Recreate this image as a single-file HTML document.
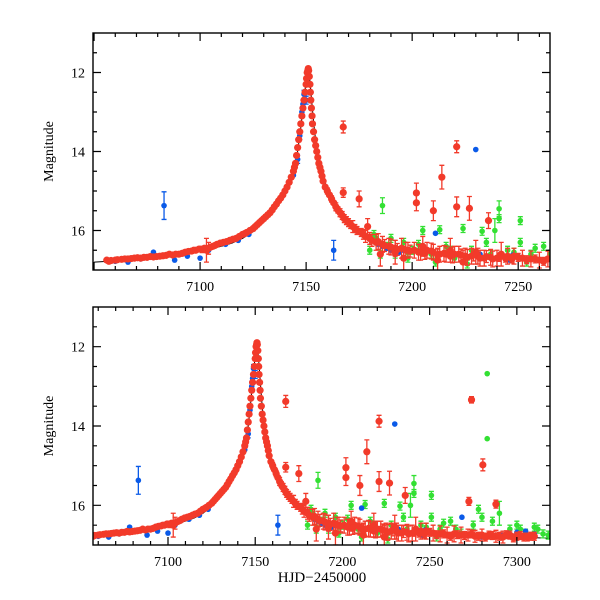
<!DOCTYPE html>
<html><head><meta charset="utf-8">
<style>
html,body{margin:0;padding:0;background:#fff;}
svg{display:block;font-family:"Liberation Serif",serif;}
</style></head>
<body>
<svg id="chart" width="600" height="600" viewBox="0 0 600 600">
<g id="p1"></g>
<g id="p2"></g>
<text x="322" y="582" text-anchor="middle" font-size="15">HJD−2450000</text>
</svg>
<script>
// model curve
const modelT=[7050,7060,7070,7080,7090,7100,7110,7115,7120,7125,7130,7135,7138,7141,7143,7145,7146,7147,7148,7149,7150,7150.5,7151,7151.5,7152,7153,7154,7155,7157,7160,7163,7166,7170,7175,7180,7190,7200,7210,7220,7240,7260,7280,7300,7320];
const modelM=[16.8,16.77,16.73,16.68,16.62,16.53,16.4,16.32,16.2,16.03,15.75,15.42,15.18,14.9,14.65,14.3,14.0,13.6,13.15,12.7,12.2,12.0,11.95,12.05,12.35,12.95,13.5,13.9,14.45,14.95,15.3,15.55,15.8,16.02,16.18,16.37,16.48,16.55,16.6,16.68,16.72,16.76,16.8,16.83];
// red observations
const redT=[7056,7058,7060,7063,7066,7069,7072,7075,7078,7081,7084,7087,7090,7093,7096,7098,7101,7103,7104,7106,7108,7111,7114,7117,7120,7122,7125,7127,7129,7131,7133,7135,7137,7139,7141,7143,7145,7146,7147,7148,7149,7150,7150.5,7151,7151.5,7152,7152.5,7153,7154,7155,7156,7157,7158,7160,7162,7164,7166,7167.5,7167.5,7168,7170,7172,7174,7175,7176,7178,7179,7180,7183,7186,7189,7192,7195,7198,7201,7202,7202,7204,7207,7210,7210,7213,7214,7216,7219,7221,7221,7222,7225,7227,7228,7231,7234,7236,7237,7240,7245,7248,7252,7256,7260,7264,7268,7272,7272.5,7274,7276,7280,7280.5,7284,7288,7288,7292,7296,7300,7304,7308,7185,7192,7196,7205,7212,7218,7224,7230,7242,
7057,7061,7064.5,7067.5,7070.5,7073.5,7076.5,7079.5,7082.5,7085.5,7088.5,7091.5,7094.5,7097,7099.5,7102,7105,7107,7109.5,7112.5,7115.5,7118.5,7121,7123.5,7126,7128,7130,7132,7134,7136,7138,7140,7142,7144,7144.5,7145.5,7146.5,7147.5,7148.5,7149.5,7150.2,7150.8,7151.2,7151.8,7152.2,7152.8,7153.5,7154.5,7155.5,7156.5,7157.5,7159,7161,7163,7165,7167,7169,7171,7173,7177,7181,7184,7187,7190,7193,7197,7199,7203,7206,7209,7212,7215,7218,7220,7223,7226,7229,7232,7235,7238,7241,7244,7247,7250,7254,7258,7262,7266,7270,7274,7278,7282,7286,7290,7294,7298,7302,7306,7310];
const redM=[16.75,16.76,16.75,16.73,16.72,16.7,16.7,16.68,16.67,16.65,16.63,16.62,16.6,16.55,16.52,16.5,16.48,16.5,16.45,16.4,16.35,16.3,16.25,16.2,16.1,16.05,15.95,15.85,15.75,15.65,15.55,15.4,15.25,15.1,14.9,14.65,14.3,13.9,13.5,13.1,12.7,12.3,12.0,11.9,12.1,12.5,12.9,13.3,13.7,14.0,14.3,14.5,14.75,15.0,15.2,15.4,15.55,13.38,15.04,15.7,15.8,15.9,16.0,15.2,16.05,16.15,15.9,16.2,16.3,16.35,16.4,16.45,16.45,16.5,16.5,15.05,15.3,16.55,16.5,16.55,15.5,16.6,14.65,16.6,16.62,13.88,15.4,16.6,16.65,15.44,16.65,16.65,16.7,15.75,16.68,16.7,16.65,16.65,16.7,16.72,16.75,16.72,16.75,16.75,15.9,13.34,16.78,16.75,14.98,16.75,16.78,15.97,16.8,16.75,16.78,16.8,16.78,16.6,16.55,16.7,16.4,16.75,16.5,16.8,16.55,16.6,
16.78,16.74,16.72,16.71,16.69,16.68,16.66,16.66,16.64,16.6,16.6,16.58,16.53,16.5,16.47,16.45,16.42,16.38,16.32,16.28,16.22,16.15,16.08,16.0,15.9,15.8,15.7,15.6,15.48,15.33,15.18,15.0,14.78,14.5,14.4,14.1,13.7,13.3,12.9,12.5,12.15,11.95,11.95,12.3,12.7,13.1,13.5,13.85,14.15,14.4,14.62,14.9,15.1,15.3,15.48,15.62,15.75,15.85,15.95,16.1,16.25,16.28,16.38,16.42,16.48,16.5,16.52,16.55,16.58,16.52,16.62,16.58,16.65,16.6,16.62,16.68,16.62,16.7,16.66,16.72,16.68,16.7,16.72,16.68,16.74,16.72,16.78,16.74,16.76,16.72,16.78,16.8,16.76,16.78,16.74,16.82,16.76,16.8,16.78];
const redE=[0.03,0.03,0.03,0.03,0.03,0.03,0.03,0.03,0.03,0.03,0.05,0.05,0.05,0.05,0.05,0.05,0.08,0.3,0.15,0.05,0.05,0.05,0.05,0.05,0.05,0.05,0.05,0.05,0.05,0.05,0.05,0.05,0.05,0.05,0.05,0.05,0.05,0.05,0.05,0.05,0.05,0.05,0.05,0.05,0.05,0.05,0.05,0.05,0.05,0.05,0.05,0.05,0.05,0.08,0.08,0.1,0.1,0.15,0.12,0.1,0.1,0.15,0.1,0.2,0.1,0.15,0.2,0.15,0.2,0.2,0.2,0.2,0.25,0.2,0.2,0.25,0.2,0.2,0.2,0.2,0.25,0.2,0.3,0.2,0.2,0.15,0.25,0.2,0.2,0.3,0.2,0.2,0.2,0.2,0.2,0.2,0.2,0.2,0.2,0.2,0.2,0.2,0.2,0.15,0.1,0.08,0.15,0.15,0.15,0.1,0.15,0.1,0.15,0.1,0.1,0.1,0.1,0.3,0.3,0.3,0.25,0.3,0.3,0.3,0.3,0.3,
0.03,0.03,0.03,0.03,0.03,0.03,0.03,0.03,0.03,0.03,0.03,0.03,0.03,0.03,0.03,0.03,0.03,0.03,0.03,0.03,0.03,0.03,0.03,0.03,0.03,0.03,0.03,0.03,0.03,0.03,0.03,0.03,0.03,0.03,0.03,0.03,0.03,0.03,0.03,0.03,0.03,0.03,0.03,0.03,0.03,0.03,0.03,0.03,0.03,0.03,0.03,0.05,0.05,0.05,0.08,0.1,0.1,0.1,0.1,0.12,0.15,0.2,0.15,0.2,0.15,0.2,0.15,0.2,0.15,0.2,0.15,0.2,0.15,0.2,0.15,0.2,0.15,0.2,0.15,0.2,0.1,0.1,0.1,0.1,0.1,0.1,0.1,0.1,0.1,0.1,0.1,0.1,0.1,0.1,0.1,0.1,0.1,0.1,0.1];
// blue observations
const blueT=[7060,7066,7072,7078,7083,7088,7094,7100,7104,7112,7118,7123,7140,7144,7146,7147,7148,7148.5,7149,7150,7163,7184,7188,7192,7196,7211,7230,7232,7240,7243,7246,7250,7268.5,7280,7295,7305,7310,7186,7190,7194,7241.5,7244.5,7247.5,7252,7292,7300];
const blueM=[16.78,16.8,16.72,16.55,15.37,16.75,16.65,16.7,16.5,16.35,16.25,16.1,15.0,14.6,14.2,13.6,13.0,12.8,12.55,12.7,16.5,16.35,16.45,16.6,16.5,16.07,13.95,16.6,16.7,16.65,16.75,16.65,16.3,16.8,16.7,16.65,16.72,16.4,16.5,16.55,16.6,16.72,16.62,16.7,16.75,16.68];
const blueE=[0.05,0.05,0.05,0.05,0.35,0.05,0.05,0.05,0.05,0.05,0.05,0.05,0.05,0.05,0.1,0.1,0.1,0.1,0.1,0.1,0.25,0.05,0.05,0.05,0.05,0.05,0.05,0.05,0.05,0.05,0.05,0.05,0.05,0.05,0.05,0.05,0.05,0.05,0.05,0.05,0.05,0.05,0.05,0.05,0.05,0.05];
// green observations
const greenT=[7180,7183,7186,7188,7192,7196,7200,7205,7209,7213,7216,7220,7224,7228,7233,7237,7241,7241,7245,7251,7251,7256,7262,7268,7275,7280,7283,7283,7286,7290,7296,7300,7305,7312,7318,7182,7185,7190,7198,7203,7211,7218,7226,7235,7239,7248,7254,7258,7265,7278,7302,7310,7315];
const greenM=[16.5,16.2,15.37,16.4,16.6,16.3,16.5,16.0,16.6,15.98,16.4,16.7,15.95,16.5,16.02,16.6,15.45,15.7,16.5,15.75,16.3,16.6,16.4,16.7,16.5,16.3,12.68,14.32,16.4,16.2,16.6,16.5,16.7,16.6,16.75,16.1,16.6,16.2,16.7,16.35,16.8,16.5,16.85,16.3,16.0,16.55,16.8,16.45,16.6,16.1,16.6,16.55,16.72];
const greenE=[0.1,0.1,0.2,0.1,0.1,0.1,0.1,0.1,0.1,0.1,0.1,0.1,0.1,0.1,0.1,0.1,0.2,0.1,0.1,0.1,0.1,0.1,0.1,0.1,0.1,0.1,0.05,0.05,0.1,0.3,0.1,0.1,0.1,0.1,0.1,0.1,0.1,0.1,0.1,0.1,0.1,0.1,0.1,0.1,0.3,0.1,0.1,0.1,0.1,0.1,0.1,0.1,0.1];
const yTickLabels=["12","14","16"];

const NS="http://www.w3.org/2000/svg";
function mk(tag,attrs,parent){const e=document.createElementNS(NS,tag);for(const k in attrs)e.setAttribute(k,attrs[k]);parent.appendChild(e);return e;}

function panel(g,L,R,T,B,t0,t1,xlabels,cid){
  const xs=t=>L+(t-t0)/(t1-t0)*(R-L);
  const ys=m=>T+(m-11)/(17-11)*(B-T);
  const defs=mk('defs',{},g);
  const cp=mk('clipPath',{id:cid},defs);
  mk('rect',{x:L,y:T,width:R-L,height:B-T},cp);
  const dg=mk('g',{'clip-path':'url(#'+cid+')'},g);
  
  
  let d='';
  modelT.forEach((t,i)=>{d+=(i?'L':'M')+xs(t).toFixed(1)+' '+ys(modelM[i]).toFixed(1);});
  const ml=mk('path',{d:d,fill:'none',stroke:'#000','stroke-width':1},dg);
  
  
  function series(T_,M_,E_,col,name,r){
    const sg=mk('g',{fill:col,stroke:col},dg);
    
    
    T_.forEach((t,i)=>{
      const x=xs(t),y=ys(M_[i]),e=E_[i]*(B-T)/6;
      if(e>3){mk('path',{d:`M${x} ${y-e}V${y+e}M${x-2.5} ${y-e}h5M${x-2.5} ${y+e}h5`,fill:'none','stroke-width':1.3},sg);}
      const c=mk('circle',{cx:x,cy:y,r:r,stroke:'none'},sg);
      
      
    });
  }
  series(greenT,greenM,greenE,'#33e033','green-series',2.8);
  series(blueT,blueM,blueE,'#0a5ae8','blue-series',2.8);
  series(redT,redM,redE,'#f23a2a','red-series',3.6);
  const fr=mk('rect',{x:L,y:T,width:R-L,height:B-T,fill:'none',stroke:'#000','stroke-width':1.4},g);
  
  
  let td='';
  for(let t=Math.ceil(t0/10)*10;t<=t1;t+=10){const x=xs(t),len=(t%50===0)?8:4;td+=`M${x} ${B}v${-len}M${x} ${T}v${len}`;}
  for(let m=11.5;m<17;m+=0.5){const y=ys(m),len=(m%2===0)?8:4;td+=`M${L} ${y}h${len}M${R} ${y}h${-len}`;}
  const tk=mk('path',{d:td,stroke:'#000','stroke-width':1.2,fill:'none'},g);
  
  
  xlabels.forEach(v=>{
    const tx=mk('text',{x:xs(v),y:B+21,'text-anchor':'middle','font-size':14},g);
    tx.textContent=String(v);
    
    
  });
  yTickLabels.forEach(s=>{
    const tx=mk('text',{x:L-8,y:ys(+s)+5,'text-anchor':'end','font-size':14},g);
    tx.textContent=s;
    
    
  });
  const yl=mk('text',{x:0,y:0,'text-anchor':'middle','font-size':14,transform:`translate(53 ${(T+B)/2}) rotate(-90)`},g);
  yl.textContent='Magnitude';
  
  
}
panel(document.getElementById('p1'),93,550,33,270,7049.5,7265,[7100,7150,7200,7250],'c1');
panel(document.getElementById('p2'),93,550,307,545,7057,7319,[7100,7150,7200,7250,7300],'c2');
</script>
</body></html>
